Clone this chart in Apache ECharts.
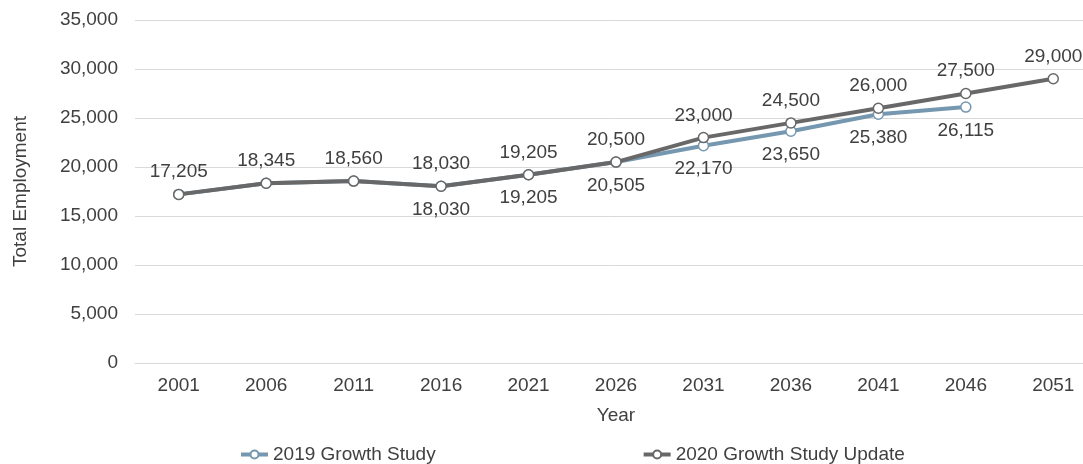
<!DOCTYPE html>
<html>
<head>
<meta charset="utf-8">
<script src="https://cdn.jsdelivr.net/npm/echarts@6/dist/echarts.min.js"></script>
<style>html,body{margin:0;padding:0;background:#fff}#c{width:1083px;height:464px}</style>
</head>
<body>
<div id="c"></div>
<script>
var years = ['2001','2006','2011','2016','2021','2026','2031','2036','2041','2046','2051'];
var study2019 = [17205, 18345, 18560, 18030, 19205, 20505, 22170, 23650, 25380, 26115, null];
var update2020 = [17205, 18345, 18560, 18030, 19205, 20500, 23000, 24500, 26000, 27500, 29000];
var hidden2019Labels = ['2001','2006','2011'];

var font = 'Liberation Sans, Arial, sans-serif';
var txt = '#404040';
var fs = 19;
function fmt(v){ return v == null ? '' : v.toLocaleString('en-US'); }

var chart = echarts.init(document.getElementById('c'), null, {renderer:'canvas'});
chart.setOption({
  animation: false,
  textStyle: {fontFamily: font},
  grid: {left: 135, width: 962, top: 20, height: 343, containLabel: false, outerBoundsMode: 'none'},
  legend: {
    top: 440, left: 234, itemGap: 206, itemWidth: 27, itemHeight: 10,
    lineStyle: {width: 4},
    textStyle: {fontFamily: font, fontSize: fs, color: txt},
    data: ['2019 Growth Study', '2020 Growth Study Update']
  },
  xAxis: {
    type: 'category', data: years, boundaryGap: true,
    name: 'Year', nameLocation: 'middle', nameGap: 43,
    nameTextStyle: {fontFamily: font, fontSize: fs, color: txt},
    axisLine: {show: true, lineStyle: {color: '#d9d9d9', width: 1}},
    axisTick: {show: false},
    axisLabel: {fontFamily: font, fontSize: fs, color: txt, margin: 13}
  },
  yAxis: {
    type: 'value', min: 0, max: 35000, interval: 5000,
    name: 'Total Employment', nameLocation: 'middle', nameGap: 105, nameRotate: 90,
    nameTextStyle: {fontFamily: font, fontSize: fs, color: txt},
    axisLine: {show: false}, axisTick: {show: false},
    splitLine: {lineStyle: {color: '#d9d9d9', width: 1}},
    axisLabel: {fontFamily: font, fontSize: fs, color: txt, margin: 17,
      formatter: function(v){ return fmt(v); }}
  },
  series: [
    {
      name: '2019 Growth Study', type: 'line',
      data: study2019.map(function(v, i){
        return {value: v, label: {show: hidden2019Labels.indexOf(years[i]) < 0}};
      }),
      symbol: 'circle', symbolSize: 10, showAllSymbol: true,
      itemStyle: {color: '#ffffff', borderColor: '#7597b0', borderWidth: 1.5},
      lineStyle: {color: '#7597b0', width: 4},
      label: {show: true, position: 'bottom', distance: 8, fontFamily: font, fontSize: fs, color: txt,
        formatter: function(p){ return fmt(p.value); }},
      z: 2
    },
    {
      name: '2020 Growth Study Update', type: 'line',
      data: update2020,
      symbol: 'circle', symbolSize: 10, showAllSymbol: true,
      itemStyle: {color: '#ffffff', borderColor: '#686868', borderWidth: 1.5},
      lineStyle: {color: '#686868', width: 4},
      label: {show: true, position: 'top', distance: 7, fontFamily: font, fontSize: fs, color: txt,
        formatter: function(p){ return fmt(p.value); }},
      z: 3
    }
  ]
});
</script>
</body>
</html>
